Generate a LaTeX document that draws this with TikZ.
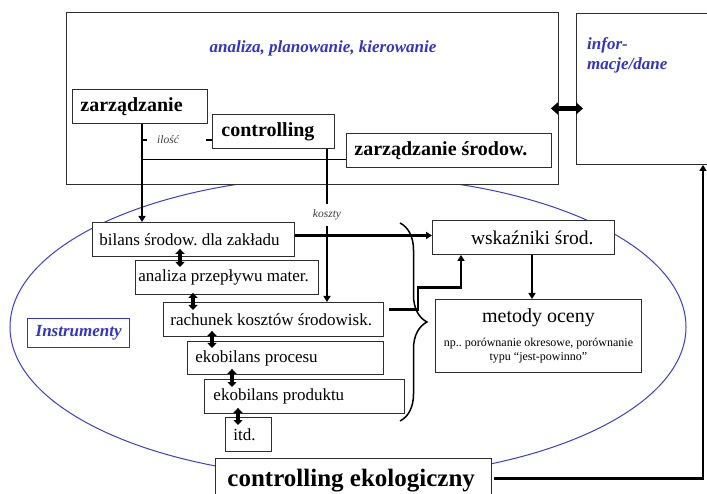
\documentclass[tikz,border=0pt]{standalone}
\usepackage{fontspec}
\setmainfont{Liberation Serif}
\usetikzlibrary{arrows.meta,decorations.pathreplacing}

\definecolor{bluetxt}{RGB}{51,51,204}
\definecolor{ellblue}{RGB}{60,60,215}
\definecolor{boxgray}{RGB}{45,45,45}
\definecolor{notegray}{RGB}{60,60,60}

\newcommand{\fsz}[1]{\fontsize{#1}{#1}\selectfont}

\tikzset{
  every node/.style={execute at begin node={\frenchspacing\spaceskip=0pt\xspaceskip=0pt}},
  box/.style={draw=boxgray, line width=0.9pt, fill=white, anchor=north west,
              inner ysep=0pt, align=flush left},
  conn/.style={line width=2.6pt, black},
  thinconn/.style={line width=1.4pt, black},
  tip/.style={-{Triangle[length=6pt,width=7pt]}},
  dbl/.style={line width=3.4pt, {Triangle[length=5pt,width=9pt]}-{Triangle[length=5pt,width=9pt]}},
  note/.style={font=\itshape\fsz{11.5}, text=notegray, inner sep=0pt},
  bluetitle/.style={font=\bfseries\itshape\fontsize{17}{20}\selectfont, text=bluetxt},
}

\begin{document}
\begin{tikzpicture}[x=1pt,y=-1pt]
\useasboundingbox (0,0) rectangle (707,494);
\fill[white] (0,0) rectangle (707,494);

% blue ellipse of the instruments
\draw[ellblue, line width=1pt] (348,327) ellipse [x radius=338, y radius=151];

% upper frame and side frame
\node[box, minimum width=492, minimum height=172, inner sep=0pt] (tbox) at (66,12) {};
\node[bluetitle] (tlabel) at (323,48) {analiza, planowanie, kierowanie};
\node[box, minimum width=150, minimum height=151, inner sep=0pt] (info) at (576,13) {};
\node[bluetitle, anchor=north west, align=flush left, inner sep=0pt] (ilabel) at (587,37) {infor-\\macje/dane};

% management boxes
\node[box, minimum height=34, text width=119pt, inner xsep=8pt, font=\bfseries\fsz{20}] (zarz) at (72,89) {zarządzanie};
\node[box, minimum height=34, text width=104pt, inner xsep=9pt, font=\bfseries\fsz{20}] (contr) at (212,114) {controlling};
\node[box, minimum height=34, text width=189pt, inner xsep=8pt, font=\bfseries\fsz{20}] (zsrod) at (346,133) {zarządzanie środow.};

% instruments
\node[box, minimum height=34, text width=188pt, inner xsep=7pt, font=\fsz{17}] (bilans) at (92,222) {bilans środow. dla zakładu};
\node[box, minimum height=34, text width=177pt, inner xsep=3pt, font=\fsz{17}] (analiza) at (135,260) {analiza przepływu mater.};
\node[box, minimum height=34, text width=206pt, inner xsep=7pt, font=\fsz{17}] (rachunek) at (163,302) {rachunek kosztów środowisk.};
\node[box, minimum height=33, text width=180pt, inner xsep=8pt, font=\fsz{17}] (ekoproc) at (187,341) {ekobilans procesu};
\node[box, minimum height=34, text width=182pt, inner xsep=9pt, font=\fsz{17}] (ekoprod) at (204,379) {ekobilans produktu};
\node[box, minimum height=34, text width=30pt, inner xsep=8pt, font=\fsz{17}] (itd) at (225,417) {itd.};

\node[box, draw=bluetxt, line width=1.3pt, minimum height=29, text width=94pt, inner xsep=4pt,
      align=flush center, text=bluetxt, font=\bfseries\itshape\fsz{17}] (instr) at (27,318) {Instrumenty};

% indicators and evaluation
\node[box, minimum height=34, text width=140pt, inner xsep=21pt, align=flush right, font=\fsz{19.5}] (wsk) at (432,220) {wskaźniki środ.};
\node[box, minimum height=73, text width=196pt, inner xsep=5pt, align=flush center, font=\fontsize{12}{14}\selectfont] (metody) at (435,299)
  {{\fsz{20}metody oceny}\\[10pt]np.. porównanie okresowe, porównanie\\typu “jest-powinno”};

% main label
\node[box, minimum height=45, text width=252pt, inner xsep=12pt, font=\bfseries\fsz{25}] (ce) at (215,458) {controlling ekologiczny};

% labels on connectors
\node[note, fill=white, anchor=west, text width=39pt, inner xsep=10pt, align=flush left] (ilosc) at (147,140) {ilość};
\node[note, minimum height=22] (koszty) at (327,215) {koszty};

% management connectors
\coordinate (za) at ([xshift=70pt]zarz.south west);
\coordinate (cx) at ([xshift=115pt]contr.south west);
\coordinate (zs) at ([yshift=-9pt]zsrod.west);
\draw[conn, tip] (za) -- (za |- bilans.north);
\draw[thinconn] (za |- ilosc.west) -- (ilosc.west);
\draw[thinconn] (ilosc.east) -- (ilosc.east -| contr.west);
\draw[thinconn] (za |- zs) -- (zs);
\draw[conn] (cx) -- (cx |- koszty.north);
\draw[conn, tip] (cx |- koszty.south) -- (cx |- rachunek.north);

% links between the instruments
\draw[dbl] ([xshift=88pt,yshift=8pt]bilans.south west) -- ([xshift=45pt,yshift=-7pt]analiza.north west);
\draw[dbl] ([xshift=58pt,yshift=2pt]analiza.south west) -- ([xshift=30pt,yshift=-8pt]rachunek.north west);
\draw[dbl] ([xshift=49pt,yshift=6pt]rachunek.south west) -- ([xshift=25pt,yshift=-7pt]ekoproc.north west);
\draw[dbl] ([xshift=45pt,yshift=6pt]ekoproc.south west) -- ([xshift=28pt,yshift=-8pt]ekoprod.north west);
\draw[dbl] ([xshift=34pt,yshift=6pt]ekoprod.south west) -- ([xshift=13pt,yshift=-8pt]itd.north west);

% brace grouping the instruments
\draw[line width=1.5pt, decorate, decoration={brace, amplitude=27pt}] (400,223) -- (400,421);

% towards the indicators
\draw[conn, tip] ([yshift=4pt]bilans.east) -- ([yshift=4pt]bilans.east -| wsk.west);
\draw[conn, tip] ([xshift=5pt,yshift=10pt]rachunek.east) -- ++(29,0) -- ++(0,-22) -| ([xshift=29pt]wsk.south west);
\draw[conn, tip] ([xshift=100pt]wsk.south west) -- ([xshift=100pt]wsk.south west |- metody.north);

% information exchange
\coordinate (ia) at ([yshift=-10pt]tbox.east);
\draw[line width=5pt, {Triangle[length=7pt,width=12pt]}-{Triangle[length=7pt,width=12pt]}]
  ([xshift=-8pt]ia) -- ([xshift=7pt]ia -| info.west);
\draw[conn, tip] ([xshift=2pt,yshift=2.5pt]ce.east) -| ([xshift=127pt]info.south west);
\end{tikzpicture}
\end{document}
